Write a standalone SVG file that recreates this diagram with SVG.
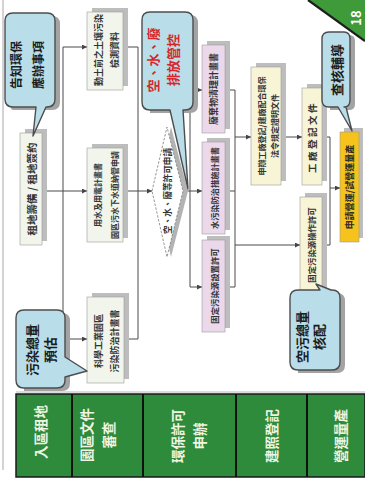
<svg xmlns="http://www.w3.org/2000/svg" width="365" height="482" viewBox="0 0 365 482">
  <defs>
    <marker id="arr" viewBox="0 0 6 6" refX="6" refY="3" markerWidth="5" markerHeight="5" orient="auto" markerUnits="userSpaceOnUse">
      <path d="M0,0 L6,3 L0,6 Z" fill="#444"/>
    </marker>
    <style>
      text{font-family:"Noto Sans CJK TC","Noto Sans CJK SC","Noto Sans",sans-serif;dominant-baseline:central;text-anchor:middle}
      .box{stroke:#9c9c9c;stroke-width:.6}
      .sh{fill:#bdbdbd}
      .c1{fill:#f1f5ec}
      .pk{fill:#ebd8eb}
      .yl{fill:#f8f4d6}
      .or{fill:#f6c31c}
      .callout{fill:#b9dde9;stroke:#4d4d4d;stroke-width:1.4;stroke-linejoin:round}
      .cs{fill:#a3a3a3}
      .t{font-size:9px;font-weight:bold;fill:#333}
      .ct{font-size:13px;font-weight:bold;fill:#1c1c1c}
      .red{fill:#d7262b}
      .g{font-size:13.5px;font-weight:bold;fill:#eef5e2}
      .ln{fill:none;stroke:#4a4a4a;stroke-width:1}
    </style>
  </defs>

  <rect width="365" height="482" fill="#ffffff"/>
  <!-- page frame -->
  <line x1="3" y1="0" x2="3" y2="470" stroke="#c4c4c4" stroke-width="1.5"/>
  <line x1="16" y1="392" x2="365" y2="392" stroke="#cfcfcf" stroke-width="1.5"/>

  <!-- corner tab with page number -->
  <g id="page-tab">
    <polygon points="308,0 365,0 365,41" fill="#3f9a3a"/>
    <line x1="308" y1="0" x2="365" y2="41" stroke="#1e1e1e" stroke-width="2.2"/>
    <text transform="translate(355,18) rotate(-90)" font-size="13" font-weight="bold" fill="#ffffff">18</text>
  </g>

  <!-- connectors -->
  <g id="connectors">
    <path class="ln" d="M63,47 V339"/>
    <path class="ln" d="M63,47 H87" marker-end="url(#arr)"/>
    <path class="ln" d="M45,191 H87" marker-end="url(#arr)"/>
    <path class="ln" d="M63,339 H87" marker-end="url(#arr)"/>
    <path class="ln" d="M123,47 H138 M123,191 H138 M124,339 H138 M138,47 V339"/>
    <path class="ln" d="M138,191 H152" marker-end="url(#arr)"/>
    <path class="ln" d="M183,191 H190 M190,90 V287"/>
    <path class="ln" d="M190,90 H202" marker-end="url(#arr)"/>
    <path class="ln" d="M190,191 H202" marker-end="url(#arr)"/>
    <path class="ln" d="M190,287 H202" marker-end="url(#arr)"/>
    <path class="ln" d="M225,90 H235 M225,191 H235 M225,287 H235 M235,90 V287"/>
    <path class="ln" d="M235,137 H251" marker-end="url(#arr)"/>
    <path class="ln" d="M235,245 H300" marker-end="url(#arr)"/>
    <path class="ln" d="M284,137 H302" marker-end="url(#arr)"/>
    <path class="ln" d="M322,137 H330 M322,245 H330 M330,137 V245"/>
    <path class="ln" d="M330,188 H340" marker-end="url(#arr)"/>
  </g>

  <!-- land lease preparation -->
  <g id="lease">
    <rect class="sh" x="25" y="129" width="22" height="112"/>
    <rect class="box c1" x="20" y="133" width="22" height="112"/>
    <text class="t" font-size="10.5" transform="translate(31,189) rotate(-90)" style="font-size:10.5px">租地籌備 / 租地簽約</text>
  </g>

  <!-- second column documents -->
  <g id="soil-data">
    <rect class="sh" x="92" y="8" width="36" height="78"/>
    <rect class="box c1" x="87" y="12" width="36" height="78"/>
    <text class="t" transform="translate(106,50) rotate(-90)"><tspan x="0" y="-8">動土前之土壤污染</tspan><tspan x="0" y="8">檢測資料</tspan></text>
  </g>
  <g id="water-power">
    <rect class="sh" x="92" y="144" width="36" height="94"/>
    <rect class="box c1" x="87" y="148" width="36" height="94"/>
    <text class="t" style="font-size:8px" transform="translate(105,195) rotate(-90)"><tspan x="0" y="-8.5">用水及用電計畫書</tspan><tspan x="0" y="8.5">園區污水下水道納管申請</tspan></text>
  </g>
  <g id="pollution-plan">
    <rect class="sh" x="92" y="293" width="37" height="86"/>
    <rect class="box c1" x="87" y="297" width="37" height="86"/>
    <text class="t" transform="translate(106,341) rotate(-90)"><tspan x="0" y="-8">科學工業園區</tspan><tspan x="0" y="8">污染防治計畫書</tspan></text>
  </g>

  <!-- permit decision -->
  <g id="permit-diamond">
    <polygon points="156,191 171,127 188,191 171,257" fill="#b3b3b3"/>
    <polygon points="152,191 167,127 183,191 167,257" fill="#ffffff" stroke="#8a8a8a" stroke-width="0.9" stroke-dasharray="2.5,1.5"/>
    <text class="t" style="font-size:8.6px" transform="translate(167,191) rotate(-90)">空、水、廢等許可申請</text>
  </g>

  <!-- permit documents -->
  <g id="waste-plan">
    <rect class="sh" x="207" y="41" width="23" height="88"/>
    <rect class="box pk" x="202" y="45" width="23" height="88"/>
    <text class="t" transform="translate(213.5,89) rotate(-90)">廢棄物清理計畫書</text>
  </g>
  <g id="water-plan">
    <rect class="sh" x="207" y="138" width="23" height="92"/>
    <rect class="box pk" x="202" y="142" width="23" height="92"/>
    <text class="t" style="font-size:8.2px" transform="translate(213.5,188) rotate(-90)">水污染防治措施計畫書</text>
  </g>
  <g id="air-install">
    <rect class="sh" x="207" y="236" width="23" height="92"/>
    <rect class="box pk" x="202" y="240" width="23" height="92"/>
    <text class="t" style="font-size:8.4px" transform="translate(213.5,286) rotate(-90)">固定污染源設置許可</text>
  </g>

  <!-- registration -->
  <g id="factory-reg">
    <rect class="sh" x="256" y="63" width="30" height="118"/>
    <rect class="box yl" x="251" y="67" width="30" height="118"/>
    <text class="t" style="font-size:8px" transform="translate(267,126) rotate(-90)"><tspan x="0" y="-6.5">申辦工廠登記/建廠配合環保</tspan><tspan x="0" y="6.5">法令規定證明文件</tspan></text>
  </g>
  <g id="reg-doc">
    <rect class="sh" x="307" y="84" width="20" height="97"/>
    <rect class="box yl" x="302" y="88" width="20" height="97"/>
    <text class="t" style="font-size:9.5px;letter-spacing:2.5px" transform="translate(312,137) rotate(-90)">工廠登記文件</text>
  </g>
  <g id="air-operate">
    <rect class="sh" x="305" y="193" width="22" height="95"/>
    <rect class="box yl" x="300" y="197" width="22" height="95"/>
    <text class="t" style="font-size:8.4px" transform="translate(311,245) rotate(-90)">固定污染源操作許可</text>
  </g>
  <g id="operation">
    <rect class="sh" x="344" y="128" width="19" height="110"/>
    <rect class="box or" x="340" y="132" width="19" height="110"/>
    <text class="t" style="font-size:9px;fill:#2a2a2a" transform="translate(349.5,187) rotate(-90)">申請營運/試營運量產</text>
  </g>

  <!-- callouts -->
  <g id="callout-notice">
    <path class="cs" d="M18,16 H52 Q60,16 60,24 V102 Q60,110 52,110 H13 Q10,110 10,102 Z"/>
    <path class="callout" d="M13,13 H47 Q55,13 55,21 V99 Q55,107 47,107 H46 L33,136 L36,107 H13 Q5,107 5,99 V21 Q5,13 13,13 Z"/>
    <text class="ct" style="font-size:12px" transform="translate(26,65) rotate(-90)"><tspan x="0" y="-11">告知環保</tspan><tspan x="0" y="11">應辦事項</tspan></text>
  </g>
  <g id="callout-discharge">
    <path class="cs" d="M155,15 H190 Q198,15 198,23 V105 Q198,113 190,113 H150 Z"/>
    <path class="callout" d="M150,12 H185 Q193,12 193,20 V102 Q193,110 185,110 H183 L188,189 L170,110 H150 Q142,110 142,102 V20 Q142,12 150,12 Z"/>
    <text class="ct red" transform="translate(162,60) rotate(-90)"><tspan x="0" y="-10">空、水、廢</tspan><tspan x="0" y="10">排放管控</tspan></text>
  </g>
  <g id="callout-audit">
    <path class="cs" d="M330,35 H349 Q355,35 355,41 V104 Q355,110 349,110 H330 Z"/>
    <path class="callout" d="M329,32 H344 Q350,32 350,39 V100 Q350,107 344,107 H346 L352,131 L338,107 H329 Q322,107 322,100 V39 Q322,32 329,32 Z"/>
    <text class="ct" transform="translate(336,70) rotate(-90)">查核輔導</text>
  </g>
  <g id="callout-estimate">
    <path class="cs" d="M24,313 H62 Q70,313 70,321 V383 Q70,391 62,391 H24 Z"/>
    <path class="callout" d="M24,310 H57 Q65,310 65,318 V357 L87,371 L65,377 V380 Q65,388 57,388 H24 Q16,388 16,380 V318 Q16,310 24,310 Z"/>
    <text class="ct" transform="translate(40,350) rotate(-90)"><tspan x="0" y="-9">污染總量</tspan><tspan x="0" y="9">預估</tspan></text>
  </g>
  <g id="callout-quota">
    <path class="cs" d="M298,293 H337 Q345,293 345,301 V365 Q345,373 337,373 H298 Z"/>
    <path class="callout" d="M298,290 H320 L316,284 L331,290 H332 Q340,290 340,298 V362 Q340,370 332,370 H298 Q290,370 290,362 V298 Q290,290 298,290 Z"/>
    <text class="ct" transform="translate(309.5,337) rotate(-90)"><tspan x="0" y="-8.5">空污總量</tspan><tspan x="0" y="8.5">核配</tspan></text>
  </g>

  <!-- stage band -->
  <g id="stages">
    <rect x="16" y="394" width="349" height="83" fill="#2e8b3b" stroke="#1a1a1a" stroke-width="1.5"/>
    <path d="M72,394 V477 M143,394 V477 M236,394 V477 M307,394 V477" stroke="#111" stroke-width="2"/>
    <text class="g" transform="translate(40,432) rotate(-90)">入區租地</text>
    <text class="g" transform="translate(97,435) rotate(-90)"><tspan x="0" y="-11">園區文件</tspan><tspan x="0" y="11">審查</tspan></text>
    <text class="g" transform="translate(188,436) rotate(-90)"><tspan x="0" y="-11">環保許可</tspan><tspan x="0" y="11">申辦</tspan></text>
    <text class="g" transform="translate(271,436) rotate(-90)">建照登記</text>
    <text class="g" transform="translate(340,436) rotate(-90)">營運量產</text>
  </g>
</svg>
